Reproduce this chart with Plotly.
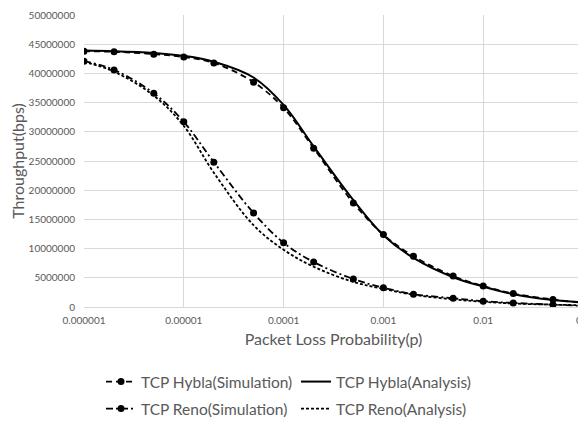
import plotly.graph_objects as go

p = [1e-6, 2e-6, 5e-6, 1e-5, 2e-5, 5e-5, 1e-4, 2e-4, 5e-4, 1e-3, 2e-3, 5e-3, 1e-2, 2e-2, 5e-2, 1e-1]
hybla_sim = [43.8e6, 43.7e6, 43.3e6, 42.8e6, 41.8e6, 38.5e6, 34.1e6, 27.2e6, 17.8e6, 12.4e6, 8.7e6, 5.3e6, 3.6e6, 2.3e6, 1.3e6, 0.7e6]
hybla_ana = [43.9e6, 43.8e6, 43.5e6, 43.0e6, 42.0e6, 39.3e6, 34.6e6, 27.5e6, 18.3e6, 12.3e6, 8.4e6, 5.1e6, 3.5e6, 2.2e6, 1.2e6, 0.8e6]
reno_sim = [42.1e6, 40.6e6, 36.6e6, 31.7e6, 24.8e6, 16.1e6, 11.0e6, 7.7e6, 4.8e6, 3.3e6, 2.2e6, 1.5e6, 1.0e6, 0.7e6, 0.4e6, 0.2e6]
reno_ana = [42.0e6, 40.3e6, 36.2e6, 31.0e6, 23.0e6, 14.0e6, 9.8e6, 6.9e6, 4.3e6, 3.1e6, 2.1e6, 1.3e6, 0.9e6, 0.6e6, 0.4e6, 0.3e6]
x_ticks = [1e-6, 1e-5, 1e-4, 1e-3, 1e-2, 1e-1]
x_tick_labels = ["0.000001", "0.00001", "0.0001", "0.001", "0.01", "0.1"]
y_ticks = list(range(0, 50000001, 5000000))

FONT = "Lato"
GREY = "#595959"

# page body has an 8px margin, so the figure is drawn 8px smaller and offset accordingly
W, H = 578, 414

fig = go.Figure()
fig.add_trace(go.Scatter(x=p, y=hybla_sim, name="TCP Hybla(Simulation)", mode="lines+markers",
                         legend="legend",
                         line=dict(color="black", width=1.8, dash="6px,4px", shape="spline"),
                         marker=dict(color="black", size=7)))
fig.add_trace(go.Scatter(x=p, y=hybla_ana, name="TCP Hybla(Analysis)", mode="lines",
                         legend="legend",
                         line=dict(color="black", width=2, shape="spline")))
fig.add_trace(go.Scatter(x=p, y=reno_sim, name="TCP Reno(Simulation)", mode="lines+markers",
                         legend="legend2",
                         line=dict(color="black", width=1.8, dash="7px,3px,2px,3px", shape="spline"),
                         marker=dict(color="black", size=7)))
fig.add_trace(go.Scatter(x=p, y=reno_ana, name="TCP Reno(Analysis)", mode="lines",
                         legend="legend2",
                         line=dict(color="black", width=1.8, dash="3px,2px", shape="spline")))

leg_common = dict(orientation="h", xref="container", yref="container", xanchor="left", yanchor="middle",
                  entrywidth=150, font=dict(size=15.5, color=GREY, family=FONT), itemwidth=30,
                  bgcolor="rgba(0,0,0,0)")

fig.update_layout(
    width=W, height=H,
    margin=dict(l=76, r=3, t=7, b=115, autoexpand=False),
    paper_bgcolor="white", plot_bgcolor="white",
    font=dict(family=FONT, color=GREY, size=10),
    showlegend=True,
    legend=dict(x=93 / W, y=1 - 374 / H, **leg_common),
    legend2=dict(x=93 / W, y=1 - 401 / H, **leg_common),
    xaxis=dict(type="log", range=[-6, -1], tickvals=x_ticks, ticktext=x_tick_labels,
               showgrid=True, gridcolor="#d9d9d9", gridwidth=1,
               showline=True, linecolor="#d9d9d9", linewidth=1, ticks="",
               ticklabelstandoff=4, ticklabeloverflow="allow",
               tickfont=dict(size=10, color=GREY, family=FONT),
               title=dict(text="Packet Loss Probability(p)", font=dict(size=16, color=GREY, family=FONT), standoff=8),
               zeroline=False),
    yaxis=dict(range=[0, 50000000], tickvals=y_ticks, tickformat="d",
               showgrid=True, gridcolor="#d9d9d9", gridwidth=1, zeroline=False,
               showline=False, ticks="", ticklabelstandoff=8,
               tickfont=dict(size=10, color=GREY, family=FONT),
               title=dict(text="Throughput(bps)", font=dict(size=16, color=GREY, family=FONT), standoff=2)),
)

fig.write_html("out.html")
